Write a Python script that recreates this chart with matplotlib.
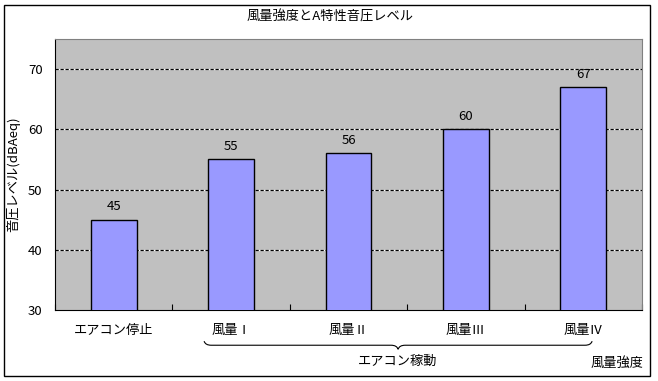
import matplotlib
matplotlib.use("Agg")
import matplotlib.pyplot as plt
import numpy as np
from matplotlib.path import Path
from matplotlib.patches import PathPatch, Rectangle
from matplotlib.transforms import blended_transform_factory

plt.rcParams['font.family'] = ['Noto Sans CJK JP', 'DejaVu Sans']

categories = ["エアコン停止", "風量Ⅰ", "風量Ⅱ", "風量Ⅲ", "風量Ⅳ"]
levels = [45, 55, 56, 60, 67]
y_ticks = [30, 40, 50, 60, 70]
title = "風量強度とA特性音圧レベル"
y_label = "音圧レベル(dBAeq)"
group_label = "エアコン稼動"
x_label = "風量強度"

fig = plt.figure(figsize=(6.58, 3.81), dpi=100)
fig.patches.append(Rectangle((4 / 658, 5 / 381), 646 / 658, 371 / 381, transform=fig.transFigure,
                             fill=False, edgecolor="black", linewidth=1))
ax = fig.add_axes([55 / 658, 1 - 310 / 381, 587 / 658, 271 / 381])
ax.set_facecolor("#C0C0C0")

x = np.arange(len(categories))
ax.bar(x, levels, width=0.39, color="#9999FF", edgecolor="black", linewidth=1, zorder=3)
for xi, v in zip(x, levels):
    ax.text(xi, v + 1.1, str(v), ha="center", va="bottom", fontsize=9.5, zorder=4)

ax.set_xlim(-0.5, len(categories) - 0.5)
ax.set_ylim(30, 75)
ax.set_yticks(y_ticks)
ax.tick_params(axis="y", length=0, pad=9, labelsize=9.5)
ax.set_xticks(x)
ax.set_xticklabels(categories, fontsize=9.5)
ax.tick_params(axis="x", which="major", length=0, pad=10)
ax.set_xticks(np.arange(-0.5, len(categories)), minor=True)
ax.tick_params(axis="x", which="minor", direction="in", length=4, width=0.8, color="black")

for yv in y_ticks[1:]:
    ax.axhline(yv, color="white", linewidth=0.9, zorder=1)
    ax.axhline(yv, color="black", linewidth=0.9, linestyle=(0, (2.6, 1.4)), zorder=2)

for side in ["top", "right"]:
    ax.spines[side].set_color("#808080")
for side in ["left", "bottom"]:
    ax.spines[side].set_color("black")

fig.text(330 / 658, 1 - 17 / 381, title, ha="center", va="center", fontsize=9.5)
fig.text(13 / 658, 0.5 * (1 - 39 / 381 + 1 - 310 / 381), y_label, rotation=90,
         ha="center", va="center", fontsize=9.5)

# brace under the operating conditions
trans = blended_transform_factory(ax.transData, ax.transAxes)
x0 = 1 - 0.23
x1 = len(categories) - 1 + 0.075
xm = 0.5 * (x0 + x1)
y_end, y_line, y_tip = -0.115, -0.13, -0.145
c = 0.06
verts = [(x0, y_end), (x0 + 0.01, y_line), (x0 + c, y_line),
         (xm - c, y_line), (xm - 0.01, y_line), (xm, y_tip),
         (xm + 0.01, y_line), (xm + c, y_line),
         (x1 - c, y_line), (x1 - 0.01, y_line), (x1, y_end)]
codes = [Path.MOVETO, Path.CURVE3, Path.CURVE3,
         Path.LINETO, Path.CURVE3, Path.CURVE3,
         Path.CURVE3, Path.CURVE3,
         Path.LINETO, Path.CURVE3, Path.CURVE3]
ax.add_patch(PathPatch(Path(verts, codes), transform=trans, fill=False,
                       edgecolor="black", linewidth=0.8, clip_on=False))
ax.text(xm, -0.19, group_label, transform=trans, ha="center", va="center", fontsize=9.5)
fig.text(617 / 658, 1 - 363 / 381, x_label, ha="center", va="center", fontsize=9.5)

fig.savefig("out.png", dpi=100)
